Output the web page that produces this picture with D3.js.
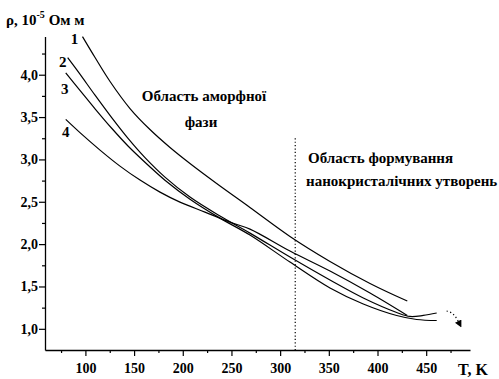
<!DOCTYPE html>
<html>
<head>
<meta charset="utf-8">
<script src="https://cdn.jsdelivr.net/npm/d3@7"></script>
<style>
  body { margin: 0; background: #fff; }
  svg { display: block; }
</style>
</head>
<body>
<svg id="chart" width="499" height="379"></svg>
<script>
// ---- data (T in K, rho in 10^-5 Ohm m) ----
const curve1T = [97, 109.9, 125.3, 145.8, 166.3, 186.9, 207.4, 234.8, 269.0, 310.1, 351.2, 392.3, 430.6];
const curve1R = [4.45, 4.203, 3.920, 3.601, 3.353, 3.141, 2.952, 2.716, 2.433, 2.091, 1.796, 1.536, 1.328];

const curve2T = [81.8, 94.4, 109.9, 127.0, 144.0, 161.2, 181.7, 207.4, 238.2, 269.0, 310.1, 351.2, 385.4, 419.7, 433.3, 447.0, 460.8];
const curve2R = [4.203, 4.006, 3.758, 3.493, 3.245, 3.021, 2.791, 2.555, 2.331, 2.130, 1.847, 1.576, 1.364, 1.193, 1.146, 1.158, 1.187];

const curve3T = [79.8, 94.4, 109.9, 127.0, 144.0, 165.6, 181.7, 207.4, 238.2, 269.0, 310.1, 351.2, 385.4, 419.7, 440.2, 460.8];
const curve3R = [4.021, 3.816, 3.598, 3.368, 3.156, 2.920, 2.755, 2.531, 2.307, 2.107, 1.788, 1.482, 1.293, 1.157, 1.110, 1.098];

const curve4T = [79.8, 94.4, 115.0, 135.5, 156.1, 176.6, 197.1, 222.8, 248.4, 269.0, 310.1, 351.2, 392.3, 430.6];
const curve4R = [3.472, 3.316, 3.110, 2.921, 2.756, 2.614, 2.496, 2.378, 2.260, 2.177, 1.918, 1.682, 1.422, 1.157];

const curveNames = ["1", "2", "3", "4"];
const xMajorTicks = [100, 150, 200, 250, 300, 350, 400, 450];
const xMinorTicks = [75, 125, 175, 225, 275, 325, 375, 425, 475];
const yMajorTicks = [1.0, 1.5, 2.0, 2.5, 3.0, 3.5, 4.0];
const yMinorTicks = [1.25, 1.75, 2.25, 2.75, 3.25, 3.75, 4.25];
const boundaryT = 315.5;
const arrowT = [471, 476, 480.6, 485.5];
const arrowR = [1.21, 1.195, 1.143, 1.03];

// ---- chart ----
const FONT = "Liberation Serif";
const svg = d3.select("#chart");
const x = d3.scaleLinear().domain([58.5, 495]).range([45, 470]);
const y = d3.scaleLinear().domain([0.75, 4.45]).range([350, 36.6]);

const fmt = v => d3.format(".1f")(v).replace(".", ",");

function txt(sel) {
  return sel.attr("font-family", FONT).attr("font-weight", "bold").attr("fill", "#000");
}

// axes
const gx = svg.append("g").attr("transform", "translate(0,350)");
gx.call(d3.axisBottom(x).tickValues(xMajorTicks).tickSize(6).tickSizeOuter(0).tickFormat(d3.format("d")));
const gxm = svg.append("g").attr("transform", "translate(0,350)");
gxm.call(d3.axisBottom(x).tickValues(xMinorTicks).tickSize(3).tickSizeOuter(0).tickFormat(""));
gxm.select(".domain").remove();

const gy = svg.append("g").attr("transform", "translate(45,0)");
gy.call(d3.axisLeft(y).tickValues(yMajorTicks).tickSize(6).tickSizeOuter(0).tickFormat(fmt));
const gym = svg.append("g").attr("transform", "translate(45,0)");
gym.call(d3.axisLeft(y).tickValues(yMinorTicks).tickSize(3).tickSizeOuter(0).tickFormat(""));
gym.select(".domain").remove();

svg.selectAll("g").attr("font-family", FONT);
svg.selectAll(".domain").attr("stroke", "#000").attr("stroke-width", 1.3);
svg.selectAll(".tick line").attr("stroke", "#000").attr("stroke-width", 1.2);
txt(gx.selectAll(".tick text")).attr("font-size", 14).attr("y", 13).attr("dy", "0.71em");
txt(gy.selectAll(".tick text")).attr("font-size", 14).attr("x", -7);

// axis titles
txt(svg.append("text")).attr("x", 458).attr("y", 375).attr("font-size", 16).text("T, K");
const yt = txt(svg.append("text")).attr("x", 6).attr("y", 25).attr("font-size", 15);
yt.append("tspan").text("ρ, 10");
yt.append("tspan").attr("dy", -7).attr("font-size", 10).text("-5");
yt.append("tspan").attr("dy", 7).text(" Ом м");

// boundary dotted line
svg.append("line")
  .attr("x1", x(boundaryT)).attr("x2", x(boundaryT))
  .attr("y1", y(3.25)).attr("y2", y(0.75))
  .attr("stroke", "#000").attr("stroke-width", 1.2).attr("stroke-dasharray", "1.2,2.2");

// curves
const series = [
  [curve1T, curve1R],
  [curve2T, curve2R],
  [curve3T, curve3R],
  [curve4T, curve4R]
];
const line = d3.line().x(d => x(d[0])).y(d => y(d[1])).curve(d3.curveCatmullRom.alpha(0.5));
series.forEach(([T, R]) => {
  svg.append("path")
    .datum(T.map((t, i) => [t, R[i]]))
    .attr("d", line)
    .attr("fill", "none").attr("stroke", "#000").attr("stroke-width", 1.2);
});

// curve labels (placed next to first point of each curve)
const labelOffsets = [[-8, 7], [-5, 9], [-1, 21], [0, 18]];
series.forEach(([T, R], i) => {
  txt(svg.append("text"))
    .attr("x", x(T[0]) + labelOffsets[i][0])
    .attr("y", y(R[0]) + labelOffsets[i][1])
    .attr("text-anchor", "middle").attr("font-size", 15)
    .text(curveNames[i]);
});

// region annotations
txt(svg.append("text")).attr("x", 204).attr("y", 101).attr("text-anchor", "middle").attr("font-size", 15).text("Область аморфної");
txt(svg.append("text")).attr("x", 201).attr("y", 127).attr("text-anchor", "middle").attr("font-size", 15).text("фази");
txt(svg.append("text")).attr("x", 308).attr("y", 163).attr("font-size", 15).text("Область формування");
txt(svg.append("text")).attr("x", 306).attr("y", 186).attr("font-size", 15).text("нанокристалічних утворень");

// dotted arrow
svg.append("defs").append("marker")
  .attr("id", "ah").attr("viewBox", "0 0 10 10").attr("refX", 8).attr("refY", 5)
  .attr("markerWidth", 6).attr("markerHeight", 6).attr("orient", "auto")
  .append("path").attr("d", "M0,0 L10,5 L0,10 z").attr("fill", "#000");
svg.append("path")
  .datum(arrowT.map((t, i) => [t, arrowR[i]]))
  .attr("d", d3.line().x(d => x(d[0])).y(d => y(d[1])).curve(d3.curveBasis))
  .attr("fill", "none").attr("stroke", "#000").attr("stroke-width", 1.2)
  .attr("stroke-dasharray", "1.2,2.5").attr("marker-end", "url(#ah)");
</script>
</body>
</html>
